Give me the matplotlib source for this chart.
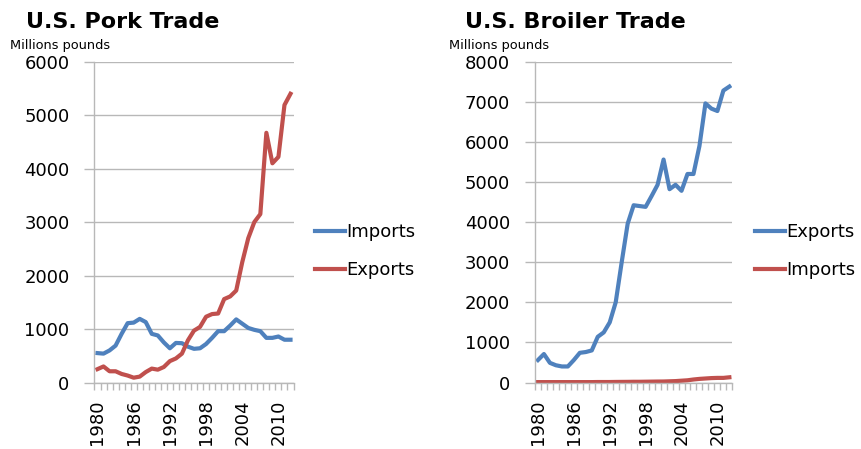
import matplotlib
matplotlib.use("Agg")
import matplotlib.pyplot as plt
import numpy as np

years = list(range(1980, 2013))

pork_imports = [550, 540, 600, 690, 910, 1110, 1120, 1190, 1130, 910, 880,
                750, 640, 740, 735, 670, 630, 640, 720, 835, 960, 960,
                1065, 1180, 1100, 1020, 985, 960, 835, 835, 860, 800, 800]
pork_exports = [250, 300, 210, 210, 160, 130, 90, 110, 195, 260, 240,
                290, 400, 450, 540, 790, 970, 1040, 1230, 1280, 1290, 1560,
                1610, 1720, 2250, 2700, 3000, 3150, 4670, 4100, 4220, 5190, 5400]

broiler_exports = [560, 710, 490, 430, 400, 400, 560, 740, 760, 800, 1140,
                   1250, 1500, 2000, 3000, 3960, 4420, 4400, 4380, 4650, 4930,
                   5560, 4820, 4930, 4780, 5200, 5200, 5900, 6960, 6830, 6770,
                   7280, 7380]
broiler_imports = [10, 10, 10, 10, 10, 10, 10, 10, 10, 10, 12,
                   12, 12, 14, 15, 16, 18, 18, 20, 22, 24,
                   25, 30, 35, 45, 55, 75, 90, 100, 110, 115, 115, 130]

year_labels = [1980, 1986, 1992, 1998, 2004, 2010]

blue = "#4f81bd"
red = "#c0504d"
grid_c = "#b8b8b8"
font = 13

fig = plt.figure(figsize=(8.62, 4.49), dpi=100)


def setup(ax, ymax):
    ax.set_xlim(1979.5, 2012.5)
    ax.set_ylim(0, ymax)
    ax.set_yticks(np.arange(0, ymax + 1, 1000))
    ax.set_xticks(year_labels)
    ax.set_xticklabels([str(y) for y in year_labels], rotation=90)
    ax.set_xticks(np.arange(1979.5, 2013, 1), minor=True)
    ax.tick_params(axis="x", which="major", length=0, labelsize=font, pad=12)
    ax.tick_params(axis="x", which="minor", length=5, color=grid_c, width=1)
    ax.tick_params(axis="y", length=7, color=grid_c, width=1, labelsize=font, pad=11)
    ax.grid(axis="y", color=grid_c, linewidth=1)
    ax.set_axisbelow(True)
    for s in ["top", "right"]:
        ax.spines[s].set_visible(False)
    for s in ["left", "bottom"]:
        ax.spines[s].set_color(grid_c)
        ax.spines[s].set_linewidth(1)


def legend(ax, x):
    ax.legend(loc="center left", bbox_to_anchor=(x / 862, 0.441), bbox_transform=fig.transFigure,
              frameon=False, fontsize=font, handlelength=1.67, handletextpad=0.05,
              borderpad=0, borderaxespad=0, labelspacing=1.1)


# pork
ax1 = fig.add_axes([0.1096, 0.1481, 0.2309, 0.7145])
ax1.plot(years, pork_imports, color=blue, lw=3, label="Imports", solid_joinstyle="round")
ax1.plot(years, pork_exports, color=red, lw=3, label="Exports", solid_joinstyle="round")
setup(ax1, 6000)
legend(ax1, 315)
fig.text(26 / 862, 1 - 28.5 / 449, "U.S. Pork Trade", fontsize=16, fontweight="bold")
fig.text(10 / 862, 1 - 49 / 449, "Millions pounds", fontsize=9.3)

# broiler
ax2 = fig.add_axes([0.6206, 0.1481, 0.229, 0.7145])
ax2.plot(years, broiler_exports, color=blue, lw=3, label="Exports", solid_joinstyle="round")
ax2.plot(years, broiler_imports, color=red, lw=3, label="Imports", solid_joinstyle="round")
setup(ax2, 8000)
legend(ax2, 755)
fig.text(465 / 862, 1 - 28.5 / 449, "U.S. Broiler Trade", fontsize=16, fontweight="bold")
fig.text(449 / 862, 1 - 49 / 449, "Millions pounds", fontsize=9.3)

fig.savefig("out.png", dpi=100)
